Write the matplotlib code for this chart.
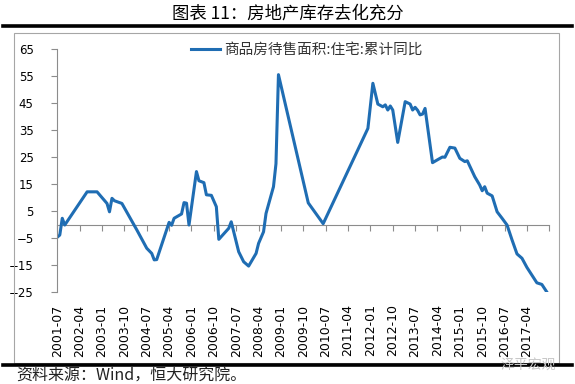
import matplotlib
matplotlib.use("Agg")
import matplotlib.pyplot as plt
from matplotlib.lines import Line2D
from matplotlib.patches import Rectangle

# vertices of the series (month, y/y %)
dates = ['2001-07', '2001-08', '2001-09', '2001-10', '2002-07', '2002-11',
         '2003-03', '2003-04', '2003-05', '2003-06', '2003-09', '2004-03',
         '2004-07', '2004-09', '2004-10', '2004-11', '2005-04', '2005-05',
         '2005-06', '2005-09', '2005-10', '2005-11', '2005-12', '2006-03',
         '2006-04', '2006-06', '2006-07', '2006-09', '2006-11', '2006-12',
         '2007-04', '2007-05', '2007-08', '2007-10', '2007-12', '2008-03',
         '2008-04', '2008-06', '2008-07', '2008-10', '2008-11', '2008-12',
         '2009-12', '2010-06', '2011-12', '2012-02', '2012-04', '2012-06',
         '2012-07', '2012-08', '2012-09', '2012-10', '2012-12', '2013-03',
         '2013-05', '2013-06', '2013-07', '2013-08', '2013-09', '2013-10',
         '2013-11', '2014-02', '2014-05', '2014-06', '2014-07', '2014-09',
         '2014-11', '2015-01', '2015-03', '2015-04', '2015-07', '2015-09',
         '2015-10', '2015-11', '2015-12', '2016-02', '2016-04', '2016-06',
         '2016-08', '2016-10', '2016-12', '2017-02', '2017-04', '2017-08',
         '2017-10', '2017-12']
values = [-4.7, -3.9, 2.3, -0.2, 12.1, 12.1,
          7.8, 4.7, 9.7, 8.8, 7.8, -2.0,
          -8.8, -10.7, -13.1, -13.0, 0.8, -0.3,
          2.3, 3.9, 8.1, 7.9, -0.2, 19.6,
          16.2, 15.5, 11.0, 10.8, 6.6, -5.5,
          -1.4, 1.0, -10.1, -13.8, -15.4, -10.7,
          -7.0, -2.7, 4.1, 14.0, 22.5, 55.5,
          8.0, 0.3, 35.6, 52.3, 44.6, 43.6,
          44.3, 42.4, 43.9, 42.4, 30.4, 45.5,
          44.6, 42.4, 43.4, 42.3, 40.6, 40.9,
          43.0, 22.9, 24.5, 25.0, 24.9, 28.6,
          28.3, 24.5, 23.3, 23.6, 17.7, 14.6,
          12.5, 14.0, 11.6, 10.6, 4.7, 2.3,
          -0.2, -5.7, -10.9, -12.5, -15.9, -21.6,
          -22.2, -25.0]
series_name = '商品房待售面积:住宅:累计同比'
yticks = list(range(-25, 66, 10))

start_year, start_month = 2001, 7
n_months = 198  # axis runs 2001-07 .. 2018-01
step = 9

def month_index(s):
    y, m = s.split('-')
    return (int(y) - start_year) * 12 + int(m) - start_month

def month_label(i):
    m = start_month - 1 + i
    return f"{start_year + m // 12}-{m % 12 + 1:02d}"

x = [month_index(d) for d in dates]
tick_pos = list(range(0, n_months, step))
tick_lab = [month_label(i) for i in tick_pos]

cjk = ['Noto Sans CJK SC', 'DejaVu Sans']
gray = '#8c8c8c'
blue = '#1f6db3'

fig = plt.figure(figsize=(5.75, 3.84), dpi=100)
W, H = 575, 384

# frame decorations of the report page
fig.text(0.5, 1 - 14 / H, '图表 11：房地产库存去化充分', ha='center', va='center',
         fontsize=12.5, family=cjk)
fig.add_artist(Line2D([3 / W, 572 / W], [1 - 26 / H] * 2, lw=2.6, color='black'))
fig.add_artist(Rectangle((14 / W, 1 - 363 / H), (559 - 14) / W, (363 - 33) / H,
                         fill=False, ec='#a6a6a6', lw=0.8, transform=fig.transFigure))
fig.add_artist(Line2D([3 / W, 572 / W], [1 - 365 / H] * 2, lw=2.6, color='black'))
fig.text(16 / W, 1 - 376 / H, '资料来源：Wind，恒大研究院。', ha='left', va='center',
         fontsize=11.5, family=cjk, color='#222222')
fig.text(528 / W, 1 - 365 / H, '泽平宏观', ha='center', va='center',
         fontsize=10, family=cjk, color='#c8c8c8')

ax = fig.add_axes([57.3 / W, 1 - 292 / H, (549.3 - 57.3) / W, (292 - 49) / H])
ax.plot(x, values, color=blue, lw=2.2, solid_joinstyle='round', label=series_name)

ax.set_xlim(0, n_months)
ax.set_ylim(-25, 65)
ax.set_yticks(yticks)
ax.set_xticks(tick_pos)
ax.set_xticklabels(tick_lab, rotation=90)
ax.tick_params(axis='x', length=0, pad=9, labelsize=9)
ax.tick_params(axis='y', direction='out', length=4, width=0.8, color=gray,
               pad=13, labelsize=8.5)
for s in ['top', 'right', 'bottom']:
    ax.spines[s].set_visible(False)
ax.spines['left'].set_color(gray)
ax.spines['left'].set_linewidth(0.8)

# category axis line crossing at zero
zero = ax.secondary_xaxis(25 / 90)
zero.set_xticks(list(range(0, n_months + 1, step)))
zero.tick_params(axis='x', direction='out', length=4, width=0.8, color=gray,
                 labelbottom=False)
zero.spines['bottom'].set_color(gray)
zero.spines['bottom'].set_linewidth(0.8)

leg = ax.legend(loc='center', bbox_to_anchor=(0.5075, 0.996), frameon=False,
                prop={'family': cjk, 'size': 10.5}, handlelength=2.0,
                handletextpad=0.3, borderpad=0, labelcolor='#333333')

fig.savefig('out.png', dpi=100)
